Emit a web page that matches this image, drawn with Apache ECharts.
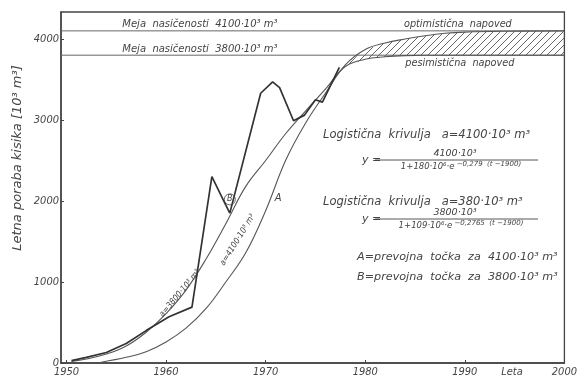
<!DOCTYPE html>
<html>
<head>
<meta charset="utf-8">
<script src="https://cdn.jsdelivr.net/npm/echarts@6/dist/echarts.min.js"></script>
<style>
  html, body { margin: 0; padding: 0; background: #fff; }
  #chart { width: 580px; height: 383px; }
</style>
</head>
<body>
<div id="chart"></div>
<script>
// Axis ticks
const X_TICKS = [1950, 1960, 1970, 1980, 1990, 2000];
const Y_TICKS = [0, 1000, 2000, 3000, 4000];

// Measured yearly oxygen consumption [10^3 m^3]
const DATA_YEARS  = [1950.5, 1952, 1954, 1956, 1958, 1960.3, 1962.6, 1964.6, 1965.9, 1966.4, 1969.5, 1970.7, 1971.4, 1972.8, 1973.9, 1975.0, 1975.7, 1977.4];
const DATA_VALUES = [30, 70, 130, 240, 400, 570, 690, 2300, 1975, 1850, 3330, 3470, 3400, 2990, 3060, 3250, 3220, 3650];

// Logistic curve A (saturation 4100)
const A_YEARS  = [1953.5, 1956, 1958, 1960, 1962, 1964, 1966, 1968, 1970, 1972, 1974, 1976, 1978, 1980, 1982, 1984, 1986, 1988, 1990, 1994, 2000];
const A_VALUES = [10, 70, 140, 260, 430, 670, 1000, 1360, 1880, 2500, 2960, 3330, 3680, 3870, 3950, 4000, 4040, 4070, 4085, 4095, 4100];

// Logistic curve B (saturation 3800)
const B_YEARS  = [1950.5, 1952, 1954, 1956, 1958, 1960, 1962, 1964, 1966, 1968, 1970, 1972, 1974, 1976, 1978, 1980, 1982, 1984, 1986, 1988, 1990, 1994, 2000];
const B_VALUES = [20, 50, 110, 210, 380, 610, 900, 1280, 1720, 2180, 2500, 2830, 3110, 3380, 3660, 3750, 3780, 3795, 3800, 3800, 3800, 3800, 3800];

// Saturation limits
const LIMIT_HIGH = 4100;
const LIMIT_LOW = 3800;

// Point where the two logistic curves cross
const CROSSING = [1977.6, 3625];

const X_MIN = 1949.45, X_MAX = 2000, Y_MAX = 4333;

const FONT_NARROW = '"DejaVu Sans Condensed", "DejaVu Sans", sans-serif';
const FONT = '"DejaVu Sans", sans-serif';
const INK = '#444';

function pairs(xs, ys) { return xs.map((x, i) => [x, ys[i]]); }

// Outline of the band between curve A (above) and curve B (below)
const bandYears = A_YEARS.filter(y => y > CROSSING[0] && B_YEARS.indexOf(y) >= 0);
const bandTop = [CROSSING].concat(bandYears.map(y => [y, A_VALUES[A_YEARS.indexOf(y)]]));
const bandBottom = bandYears.map(y => [y, B_VALUES[B_YEARS.indexOf(y)]]).reverse();

function hatchPattern() {
  const s = 7;
  const c = document.createElement('canvas');
  c.width = s; c.height = s;
  const g = c.getContext('2d');
  g.strokeStyle = '#555';
  g.lineWidth = 0.9;
  g.beginPath();
  g.moveTo(-1, s + 1); g.lineTo(s + 1, -1);
  g.moveTo(-1, 1); g.lineTo(1, -1);
  g.moveTo(s - 1, s + 1); g.lineTo(s + 1, s - 1);
  g.stroke();
  return c;
}
const HATCH = hatchPattern();

const chart = echarts.init(document.getElementById('chart'), null, { renderer: 'canvas' });

const axisLabelStyle = { color: INK, fontSize: 11, fontStyle: 'italic', fontFamily: FONT_NARROW, formatter: v => String(v) };

const option = {
  animation: false,
  backgroundColor: '#fff',
  grid: { left: 61, right: 13, top: 12, bottom: 20, show: true, borderColor: INK, borderWidth: 1.3 },
  xAxis: {
    type: 'value', min: X_MIN, max: X_MAX,
    axisLine: { show: true, lineStyle: { color: INK, width: 1.5 } },
    axisTick: { show: true, inside: true, length: 3, customValues: X_TICKS, lineStyle: { color: INK } },
    axisLabel: Object.assign({ customValues: X_TICKS, margin: 4 }, axisLabelStyle),
    splitLine: { show: false }
  },
  yAxis: {
    type: 'value', min: 0, max: Y_MAX,
    axisLine: { show: true, lineStyle: { color: INK, width: 1.5 } },
    axisTick: { show: true, inside: true, length: 3, customValues: Y_TICKS, lineStyle: { color: INK } },
    axisLabel: Object.assign({ customValues: Y_TICKS, margin: 2 }, axisLabelStyle),
    splitLine: { show: false }
  },
  series: [
    { type: 'line', name: 'limitHigh', data: [[X_MIN, LIMIT_HIGH], [X_MAX, LIMIT_HIGH]], symbol: 'none', lineStyle: { color: '#666', width: 1 }, silent: true },
    { type: 'line', name: 'limitLow', data: [[X_MIN, LIMIT_LOW], [X_MAX, LIMIT_LOW]], symbol: 'none', lineStyle: { color: '#666', width: 1 }, silent: true },
    {
      type: 'custom', name: 'band', data: [0], silent: true, clip: true,
      renderItem: (params, api) => {
        const pts = bandTop.concat(bandBottom).map(p => api.coord(p));
        return { type: 'polygon', shape: { points: pts }, style: { fill: { image: HATCH, repeat: 'repeat' }, stroke: null } };
      }
    },
    { type: 'line', name: 'curveA', data: pairs(A_YEARS, A_VALUES), symbol: 'none', smooth: 0.4, lineStyle: { color: '#555', width: 1.1 } },
    { type: 'line', name: 'curveB', data: pairs(B_YEARS, B_VALUES), symbol: 'none', smooth: 0.4, lineStyle: { color: '#555', width: 1.1 } },
    { type: 'line', name: 'measured', data: pairs(DATA_YEARS, DATA_VALUES), symbol: 'none', lineStyle: { color: '#333', width: 1.7 } }
  ]
};
chart.setOption(option);

const px = (x, y) => chart.convertToPixel({ xAxisIndex: 0, yAxisIndex: 0 }, [x, y]);

function txt(x, y, text, opt) {
  opt = opt || {};
  return {
    type: 'text', x: x, y: y, rotation: opt.rotation || 0, z: 10,
    style: {
      text: text,
      fill: opt.color || INK,
      font: 'italic ' + (opt.size || 11) + 'px ' + (opt.family || FONT),
      align: opt.align || 'left',
      verticalAlign: opt.vAlign || 'middle'
    }
  };
}

const g = [];
const hi = px(1963.4, LIMIT_HIGH), lo = px(1963.4, LIMIT_LOW);
g.push(txt(hi[0], hi[1] - 1, 'Meja  nasičenosti  4100·10³ m³', { size: 10, align: 'center', vAlign: 'bottom' }));
g.push(txt(lo[0], lo[1] - 1, 'Meja  nasičenosti  3800·10³ m³', { size: 10, align: 'center', vAlign: 'bottom' }));
const opt = px(1989.3, LIMIT_HIGH), pes = px(1989.5, LIMIT_LOW);
g.push(txt(opt[0], opt[1] - 1, 'optimistična  napoved', { size: 9.7, align: 'center', vAlign: 'bottom' }));
g.push(txt(pes[0], pes[1] + 3, 'pesimistična  napoved', { size: 9.7, align: 'center', vAlign: 'top' }));

// Labels written along the curves
const lb = px(1961.4, 860);
g.push(txt(lb[0], lb[1], 'a=3800·10³ m³', { size: 8.5, align: 'center', rotation: 50 * Math.PI / 180, family: FONT_NARROW }));
const la = px(1967.2, 1520);
g.push(txt(la[0], la[1], 'a=4100·10³ m³', { size: 8.5, align: 'center', rotation: 58 * Math.PI / 180, family: FONT_NARROW }));
const pa = px(1970.6, 2000);
g.push(txt(pa[0] + 3, pa[1] - 3, 'A', { size: 10 }));
const pb = px(1966.4, 2020);
g.push({ type: 'circle', shape: { cx: pb[0], cy: pb[1], r: 5.5 }, style: { fill: 'none', stroke: INK, lineWidth: 0.8 }, z: 10 });
g.push(txt(pb[0], pb[1], 'B', { size: 8, align: 'center' }));

// Axis captions
g.push(txt(18, 158, 'Letna poraba kisika [10³ m³]', { size: 13, align: 'center', rotation: Math.PI / 2 }));
g.push(txt(512, 372, 'Leta', { size: 11, align: 'center', family: FONT_NARROW }));

// Formula block
const sup = { fontSize: 7, verticalAlign: 'top', fontStyle: 'italic', fontFamily: FONT, fill: INK, lineHeight: 11 };
const base = { fontSize: 8.5, fontStyle: 'italic', fontFamily: FONT, fill: INK, lineHeight: 11 };
function fraction(yLine, num, den, exp) {
  g.push(txt(362, yLine, 'y =', { size: 11 }));
  g.push({ type: 'line', shape: { x1: 375, y1: yLine, x2: 538, y2: yLine }, style: { stroke: INK, lineWidth: 0.9 }, z: 10 });
  g.push(txt(455, yLine - 1, num, { size: 9.5, align: 'center', vAlign: 'bottom' }));
  g.push({
    type: 'text', x: 461, y: yLine + 1, z: 10,
    style: { text: '{b|' + den + '}{s|' + exp + '}', rich: { b: base, s: sup }, align: 'center', verticalAlign: 'top' }
  });
}
g.push(txt(323, 135, 'Logistična  krivulja   a=4100·10³ m³', { size: 11.5 }));
fraction(160, '4100·10³', '1+180·10⁶·e', ' −0,279  (t −1900)');
g.push(txt(323, 202, 'Logistična  krivulja   a=380·10³ m³', { size: 11.5 }));
fraction(219, '3800·10³', '1+109·10⁶·e', ' −0,2765  (t −1900)');
g.push(txt(357, 257, 'A=prevojna  točka  za  4100·10³ m³', { size: 11.2 }));
g.push(txt(357, 277, 'B=prevojna  točka  za  3800·10³ m³', { size: 11.2 }));

chart.setOption({ graphic: g });
</script>
</body>
</html>
